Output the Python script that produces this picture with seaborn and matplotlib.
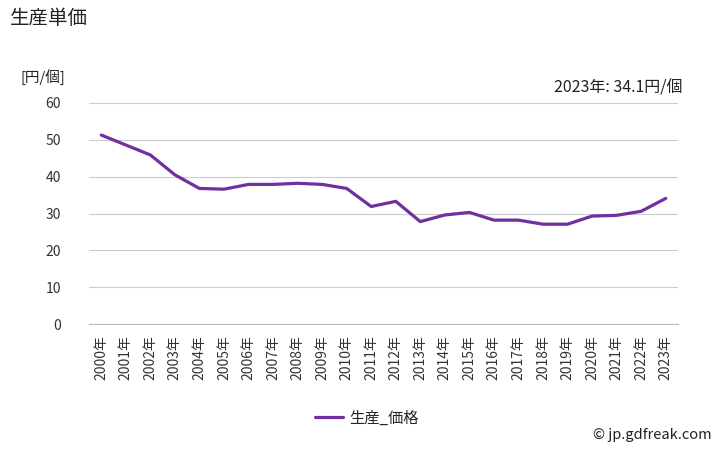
import matplotlib
matplotlib.use("Agg")
import matplotlib.pyplot as plt
import seaborn as sns
import pandas as pd

years = [f"{y}年" for y in range(2000, 2024)]
values = [51.3, 48.6, 45.9, 40.5, 36.8, 36.6, 37.9, 37.9, 38.2, 37.9, 36.8, 31.9,
          33.3, 27.8, 29.6, 30.3, 28.2, 28.2, 27.1, 27.1, 29.3, 29.5, 30.6, 34.1]
series_name = "生産_価格"
yticks = [0, 10, 20, 30, 40, 50, 60]

sns.set_theme(style="white")
plt.rcParams['font.family'] = ['Noto Sans CJK JP', 'DejaVu Sans']

df = pd.DataFrame({"x": list(range(len(years))), "value": values, "series": series_name})

fig = plt.figure(figsize=(7.28, 4.5), dpi=100)
ax = fig.add_axes([89/728, 1-324/450, (678-89)/728, (324-103)/450])

sns.lineplot(data=df, x="x", y="value", hue="series", palette=["#7030A0"],
             linewidth=2.3, ax=ax, legend=False)

ax.set_xlim(-0.5, len(years) - 0.5)
ax.set_ylim(0, 60)
ax.set_yticks(yticks)
ax.set_yticklabels([str(v) for v in yticks], fontsize=10, color="#333333")
ax.set_xticks(range(len(years)))
ax.set_xticklabels(years, rotation=90, fontsize=10, color="#333333")
ax.set_xticks([i - 0.5 for i in range(len(years) + 1)], minor=True)
ax.tick_params(axis="x", which="major", length=0, pad=8)
ax.tick_params(axis="x", which="minor", length=5, color="#bbbbbb", width=0.8)
ax.tick_params(axis="y", length=0, pad=20)
ax.grid(axis="y", color="#cccccc", linewidth=0.8)
ax.set_axisbelow(True)
for s in ["left", "right", "top"]:
    ax.spines[s].set_visible(False)
ax.spines["bottom"].set_color("#bbbbbb")
ax.spines["bottom"].set_linewidth(0.8)
ax.set_xlabel("")
ax.set_ylabel("")

fig.text(10/728, 1-18/450, "生産単価", fontsize=14, va="center", ha="left", color="#222222")
fig.text(20/728, 1-77/450, "[円/個]", fontsize=10.5, va="center", ha="left", color="#222222")
fig.text(682/728, 1-88/450, "2023年: 34.1円/個", fontsize=11.5, va="center", ha="right", color="#222222")

from matplotlib.lines import Line2D
h = [Line2D([0], [0], color="#7030A0", linewidth=2.3)]
fig.legend(h, [series_name], loc="center", bbox_to_anchor=(367/728, 1-418/450),
           frameon=False, fontsize=11, handlelength=1.8, handletextpad=0.4)

fig.text(712/728, 1-435/450, "© jp.gdfreak.com", fontsize=10.5, va="center", ha="right", color="#222222")

fig.savefig("out.png", dpi=100)
